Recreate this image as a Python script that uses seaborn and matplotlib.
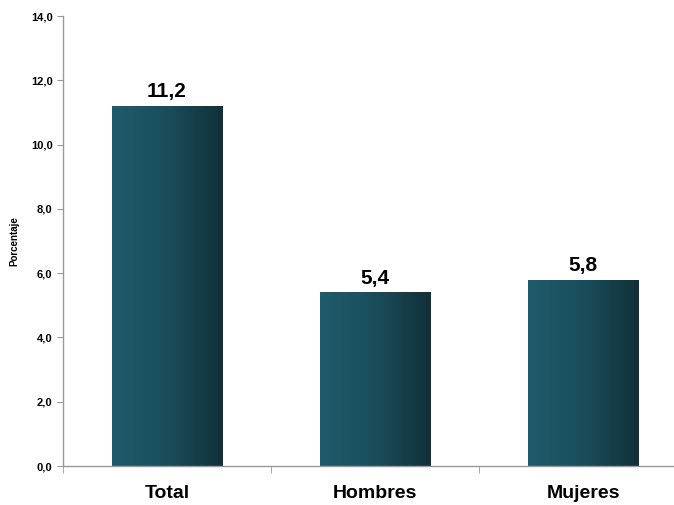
import numpy as np
import pandas as pd
import matplotlib
matplotlib.use("Agg")
import matplotlib.pyplot as plt
import seaborn as sns
from matplotlib.colors import LinearSegmentedColormap
from matplotlib.ticker import FuncFormatter, FixedLocator

categories = ["Total", "Hombres", "Mujeres"]
values = [11.2, 5.4, 5.8]

df = pd.DataFrame({"grupo": categories, "porcentaje": values})

sns.set_style("white")
plt.rcParams["font.family"] = ["Liberation Sans", "DejaVu Sans"]

fig = plt.figure(figsize=(6.74, 5.05), dpi=100)
ax = fig.add_axes([63 / 674, 39 / 505, 624 / 674, 450 / 505])

sns.barplot(data=df, x="grupo", y="porcentaje", color="#1d5566", width=0.53, ax=ax)

# horizontal gradient on each bar
cmap = LinearSegmentedColormap.from_list("teal", ["#1f5c6c", "#1a4d5b", "#12303a"])
grad = np.linspace(0, 1, 256).reshape(1, -1)
for p in ax.patches:
    x0, y0 = p.get_x(), p.get_y()
    w, h = p.get_width(), p.get_height()
    im = ax.imshow(grad, cmap=cmap, aspect="auto", extent=[x0, x0 + w, y0, y0 + h],
                   zorder=p.get_zorder() + 0.1)
    im.set_clip_path(p)
    ax.text(x0 + w / 2, h + 0.15, f"{h:.1f}".replace(".", ","), ha="center", va="bottom",
            fontsize=15, fontweight="bold", color="black")

ax.set_xlim(-0.5, 2.5)
ax.set_ylim(0, 14)
ax.set_yticks(np.arange(0, 14.1, 2))
ax.yaxis.set_major_formatter(FuncFormatter(lambda v, _: f"{v:.1f}".replace(".", ",")))
ax.tick_params(axis="y", labelsize=8, length=4, color="#999999", labelcolor="black",
               direction="out", left=True)
for lab in ax.get_yticklabels():
    lab.set_fontweight("bold")

ax.tick_params(axis="x", length=0, labelsize=14, pad=14, labelcolor="black")
for lab in ax.get_xticklabels():
    lab.set_fontweight("bold")
ax.xaxis.set_minor_locator(FixedLocator([-0.5, 0.5, 1.5, 2.5]))
ax.tick_params(axis="x", which="minor", length=5, color="#999999", bottom=True)

ax.set_xlabel("")
ax.set_ylabel("Porcentaje", fontsize=7, fontweight="bold", labelpad=8, color="black")

for s in ["top", "right"]:
    ax.spines[s].set_visible(False)
for s in ["left", "bottom"]:
    ax.spines[s].set_color("#999999")
    ax.spines[s].set_linewidth(1)

fig.savefig("out.png", dpi=100)
